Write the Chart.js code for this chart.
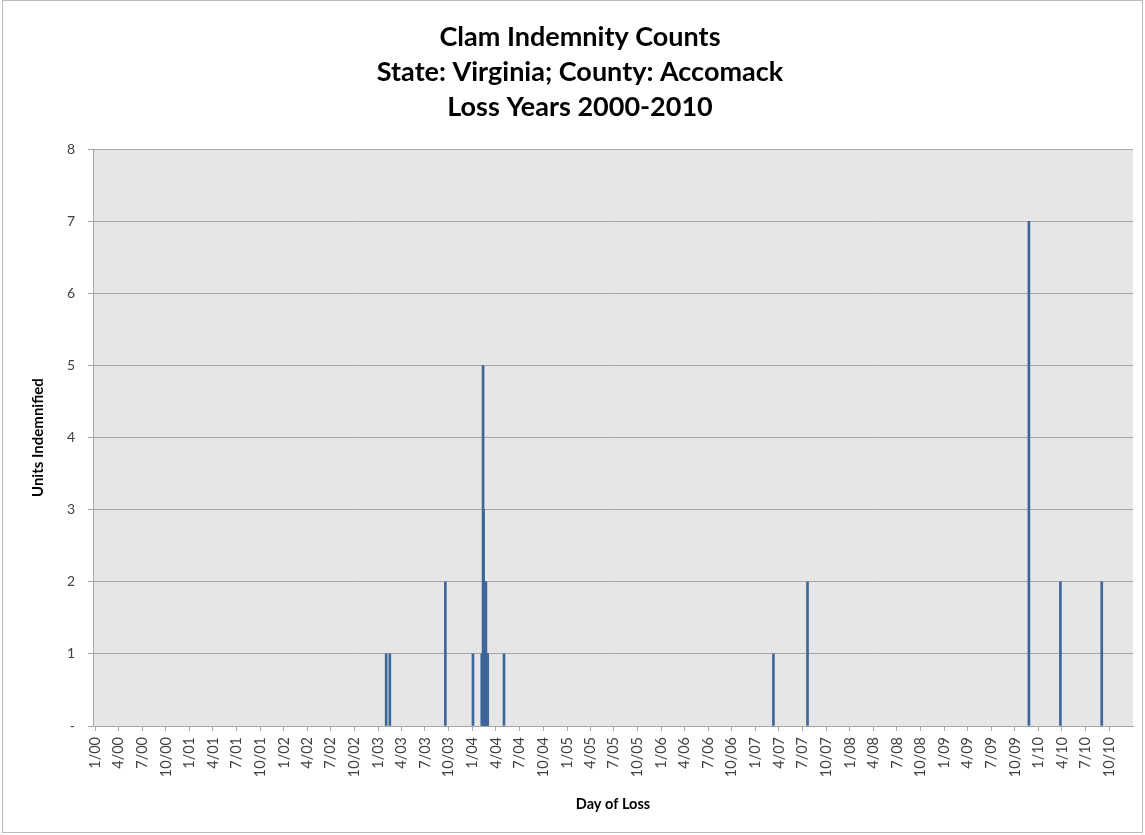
<!DOCTYPE html>
<html>
<head>
<meta charset="utf-8">
<script src="https://cdn.jsdelivr.net/npm/chart.js@4/dist/chart.umd.min.js"></script>
<style>
  html, body { margin: 0; padding: 0; background: #ffffff; }
  #wrap { width: 1145px; height: 835px; position: relative; }
</style>
</head>
<body>
<div id="wrap"><canvas id="c" width="1145" height="835"></canvas></div>
<script>
// ---- Data ----
const lossDates = [
  '2003-02-01','2003-02-15','2003-09-18',
  '2004-01-03','2004-02-06','2004-02-09','2004-02-11','2004-02-13','2004-02-16',
  '2004-02-19','2004-02-22','2004-02-25','2004-02-27','2004-02-29','2004-05-02',
  '2007-03-11','2007-07-21',
  '2009-11-24','2010-03-26','2010-09-02'
];
const unitCounts = [1,1,2, 1,1,1,5,3,2, 2,2,1,1,1,1, 1,2, 7,2,2];

const xTickLabels = [
  '1/00','4/00','7/00','10/00','1/01','4/01','7/01','10/01',
  '1/02','4/02','7/02','10/02','1/03','4/03','7/03','10/03',
  '1/04','4/04','7/04','10/04','1/05','4/05','7/05','10/05',
  '1/06','4/06','7/06','10/06','1/07','4/07','7/07','10/07',
  '1/08','4/08','7/08','10/08','1/09','4/09','7/09','10/09',
  '1/10','4/10','7/10','10/10'
];
const yTickValues = [0,1,2,3,4,5,6,7,8];

const titleLines = ['Clam Indemnity Counts', 'State: Virginia; County: Accomack', 'Loss Years 2000-2010'];

// ---- Helpers ----
const EPOCH = Date.UTC(2000, 0, 1);
function dayIndexFromISO(s) {
  const [y, m, d] = s.split('-').map(Number);
  return Math.round((Date.UTC(y, m - 1, d) - EPOCH) / 86400000);
}
function dayIndexFromLabel(lbl) {
  const [m, yy] = lbl.split('/').map(Number);
  return Math.round((Date.UTC(2000 + yy, m - 1, 1) - EPOCH) / 86400000);
}
const xTickValues = xTickLabels.map(dayIndexFromLabel);
const points = lossDates.map((d, i) => ({ x: dayIndexFromISO(d), y: unitCounts[i] }));

const plotBg = {
  id: 'plotBg',
  beforeDraw(chart) {
    const { ctx, chartArea: a } = chart;
    ctx.save();
    ctx.fillStyle = '#ffffff';
    ctx.fillRect(0, 0, chart.width, chart.height);
    ctx.fillStyle = '#e6e6e6';
    ctx.fillRect(a.left, a.top, a.right - a.left, a.bottom - a.top);
    ctx.strokeStyle = '#bdbdbd';
    ctx.lineWidth = 1;
    ctx.strokeRect(2.5, 0.5, 1140, 832);
    ctx.restore();
  }
};

const FONT = 'Lato, "Open Sans", sans-serif';

new Chart(document.getElementById('c'), {
  type: 'bar',
  data: {
    datasets: [{
      label: 'Units Indemnified',
      data: points,
      backgroundColor: '#3d6699',
      borderWidth: 0,
      barThickness: 2,
      grouped: false
    }]
  },
  options: {
    responsive: false,
    animation: false,
    devicePixelRatio: 1,
    layout: { padding: { left: 27, right: 12, top: 0, bottom: 20 } },
    plugins: {
      legend: { display: false },
      tooltip: { enabled: false },
      title: {
        display: true,
        text: titleLines,
        color: '#000000',
        font: { family: FONT, size: 27, weight: 'bold', lineHeight: 1.3 },
        padding: { top: 20, bottom: 24 }
      }
    },
    scales: {
      x: {
        type: 'linear',
        min: -8,
        max: 4018,
        offset: false,
        afterBuildTicks(scale) {
          scale.ticks = xTickValues.map(v => ({ value: v }));
        },
        afterFit(scale) { scale.height = 89; },
        grid: {
          display: true,
          drawOnChartArea: false,
          drawTicks: true,
          tickLength: 5,
          offset: false,
          color: '#a6a6a6'
        },
        border: { display: true, color: '#a6a6a6', width: 1 },
        ticks: {
          autoSkip: false,
          minRotation: 90,
          maxRotation: 90,
          padding: 6,
          color: '#404040',
          font: { family: FONT, size: 14.5 },
          callback: (v, i) => xTickLabels[i]
        },
        title: {
          display: true,
          text: 'Day of Loss',
          color: '#000000',
          font: { family: FONT, size: 14.5, weight: 'bold' },
          padding: { top: 4, bottom: 2 }
        }
      },
      y: {
        min: 0,
        max: 8,
        afterBuildTicks(scale) {
          scale.ticks = yTickValues.map(v => ({ value: v }));
        },
        afterFit(scale) { scale.width = 66; },
        grid: {
          color: '#a6a6a6',
          tickLength: 5,
          lineWidth: 1
        },
        border: { display: true, color: '#a6a6a6', width: 1 },
        ticks: {
          padding: 13,
          color: '#404040',
          font: { family: FONT, size: 14 },
          callback: v => (v === 0 ? '-' : String(v))
        },
        title: {
          display: true,
          text: 'Units Indemnified',
          color: '#000000',
          font: { family: FONT, size: 15, weight: 'bold' },
          padding: { top: 2, bottom: 4 }
        }
      }
    }
  },
  plugins: [plotBg]
});
</script>
</body>
</html>
